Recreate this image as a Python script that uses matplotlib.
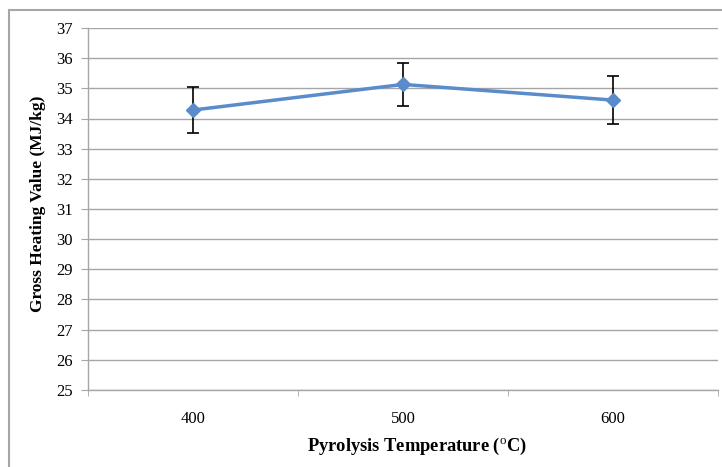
import matplotlib.pyplot as plt
from matplotlib.patches import Rectangle

plt.rcParams['font.family'] = ['Liberation Serif', 'DejaVu Serif']
plt.rcParams['mathtext.fontset'] = 'custom'
plt.rcParams['mathtext.rm'] = 'Liberation Serif'
plt.rcParams['mathtext.bf'] = 'Liberation Serif:bold'

temps = ['400', '500', '600']
ghv = [34.28, 35.13, 34.61]
ghv_err = [0.75, 0.70, 0.79]

fig = plt.figure(figsize=(7.22, 4.67), dpi=100)
ax = fig.add_axes([88 / 722, 1 - 390 / 467, 630 / 722, 362 / 467])

# outer chart border (cropped at right/bottom)
fig.patches.append(Rectangle((9 / 722, -0.05), 1.2, 1 - 10 / 467 + 0.05,
                             transform=fig.transFigure, fill=False,
                             edgecolor='#a6a6a6', linewidth=1.5))

x = list(range(len(temps)))
ax.errorbar(x, ghv, yerr=ghv_err, color='#5a8ccb', linewidth=2.5,
            marker='D', markersize=7, ecolor='black', elinewidth=1.2,
            capsize=4, capthick=1.2, zorder=3)

ax.set_xlim(-0.5, len(temps) - 0.5)
ax.set_ylim(25, 37)
ax.set_yticks(range(25, 38))
ax.set_xticks(x)
ax.set_xticklabels(temps, fontsize=12)
ax.set_xticks([i - 0.5 for i in range(len(temps) + 1)], minor=True)
ax.tick_params(axis='x', which='major', length=0, pad=15)
ax.tick_params(axis='x', which='minor', length=4, color='#a6a6a6', direction='out')
ax.tick_params(axis='y', length=5, color='#a6a6a6', direction='out', labelsize=12, pad=6)

ax.grid(axis='y', color='#a6a6a6', linewidth=1)
ax.set_axisbelow(True)
for s in ['top', 'right']:
    ax.spines[s].set_visible(False)
for s in ['left', 'bottom']:
    ax.spines[s].set_color('#a6a6a6')
    ax.spines[s].set_linewidth(1)

ax.set_ylabel('Gross Heating Value (MJ/kg)', fontsize=12.5, fontweight='bold', va='center')
ax.yaxis.set_label_coords((38 - 88) / 630, (390 - 204) / 362)
ax.set_xlabel(r'Pyrolysis Temperature ($^{\mathrm{o}}$C)', fontsize=13.3,
              fontweight='bold', va='center')
ax.xaxis.set_label_coords((417 - 88) / 630, (390 - 446) / 362)

fig.savefig('out.png', dpi=100)
